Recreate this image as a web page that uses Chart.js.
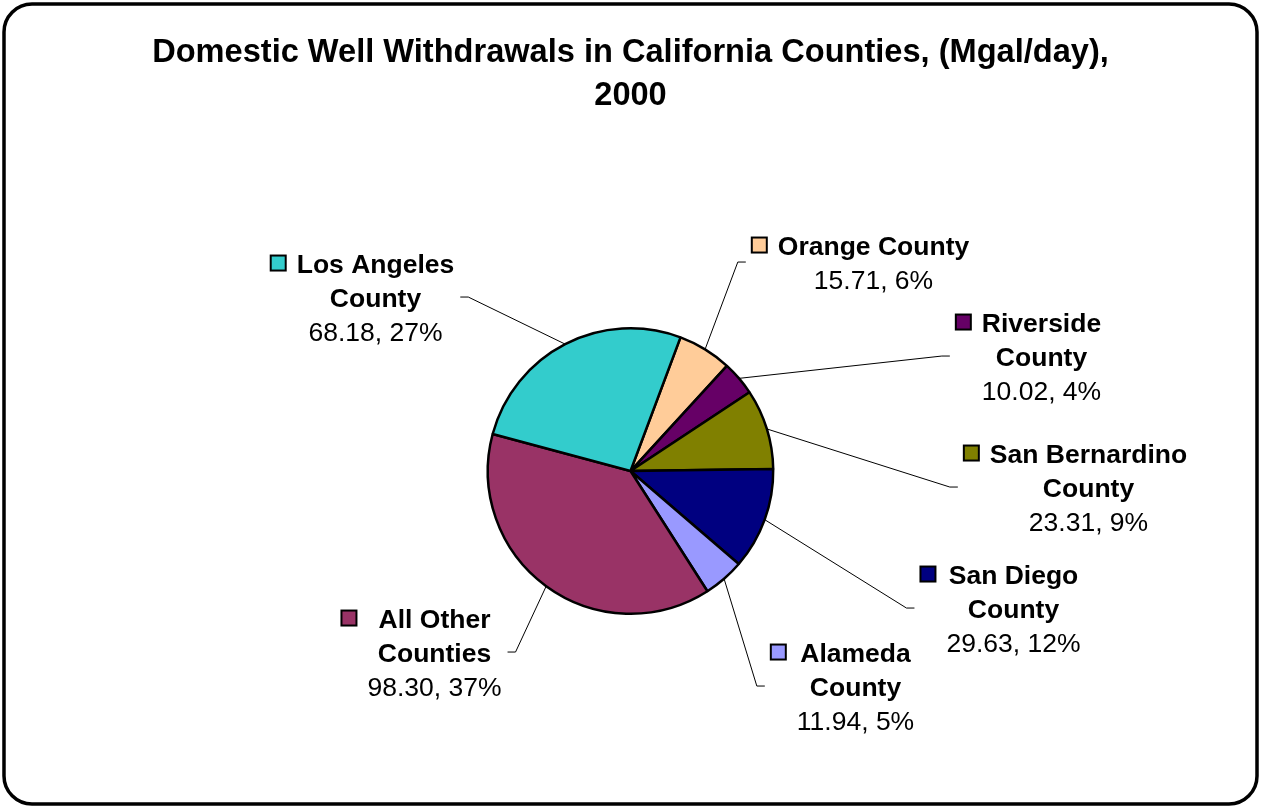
<!DOCTYPE html>
<html>
<head>
<meta charset="utf-8">
<script src="https://cdn.jsdelivr.net/npm/chart.js@4"></script>
<style>
  html, body { margin: 0; padding: 0; background: #fff; }
  canvas { display: block; }
</style>
</head>
<body>
<canvas id="pieChart" width="1261" height="808"></canvas>
<script>
// Data, in drawing order (clockwise from the top-right)
const categories = ['Orange County', 'Riverside County', 'San Bernardino County', 'San Diego County',
                    'Alameda County', 'All Other Counties', 'Los Angeles County'];
const withdrawals = [15.71, 10.02, 23.31, 29.63, 11.94, 98.30, 68.18];
const percentLabels = [6, 4, 9, 12, 5, 37, 27];
const sliceColors = ['#FFCC99', '#660066', '#808000', '#000080', '#9999FF', '#993366', '#33CCCC'];

// Label block centres, relative to the pie centre (layout only)
const labelOffsets = [[243, -209], [411, -115], [458, 16], [383, 137], [225, 215], [-196, 181], [-255, -174]];

const labelFont = 'Liberation Sans, Arial, sans-serif';
const labelSize = 26.5;
const lineStep = 34;

function wrapName(ctx, text, maxWidth) {
    const words = text.split(' ');
    const lines = [];
    let cur = '';
    words.forEach(w => {
        const test = cur ? cur + ' ' + w : w;
        if (cur && ctx.measureText(test).width > maxWidth) {
            lines.push(cur);
            cur = w;
        } else {
            cur = test;
        }
    });
    if (cur) lines.push(cur);
    return lines;
}

// Rounded frame round the whole chart
const framePlugin = {
    id: 'frame',
    afterDraw(chart) {
        const ctx = chart.ctx;
        ctx.save();
        ctx.lineWidth = 3.5;
        ctx.strokeStyle = '#000';
        ctx.beginPath();
        ctx.roundRect(4, 4, 1253, 800, 28);
        ctx.stroke();
        ctx.restore();
    }
};

// Outside labels with leader lines, Excel style
const sliceLabels = {
    id: 'sliceLabels',
    afterDatasetsDraw(chart) {
        const ctx = chart.ctx;
        const meta = chart.getDatasetMeta(0);
        ctx.save();
        meta.data.forEach((arc, i) => {
            const p = arc.getProps(['x', 'y', 'startAngle', 'endAngle', 'outerRadius'], true);
            const mid = (p.startAngle + p.endAngle) / 2;
            const sx = p.x + Math.cos(mid) * p.outerRadius;
            const sy = p.y + Math.sin(mid) * p.outerRadius;
            const cx = p.x + labelOffsets[i][0];
            const cy = p.y + labelOffsets[i][1];

            ctx.font = 'bold ' + labelSize + 'px ' + labelFont;
            const names = wrapName(ctx, categories[i], 200);
            const valueText = withdrawals[i].toFixed(2) + ', ' + percentLabels[i] + '%';
            const n = names.length + 1;
            const top = cy - (n - 1) / 2 * lineStep;

            let maxW = 0;
            names.forEach(t => { maxW = Math.max(maxW, ctx.measureText(t).width); });
            ctx.font = labelSize + 'px ' + labelFont;
            maxW = Math.max(maxW, ctx.measureText(valueText).width);
            const boxLeft = cx - maxW / 2;
            const boxRight = cx + maxW / 2;
            const sqRight = boxLeft - 11;
            const sqLeft = sqRight - 15;

            // leader line
            let end, elbow;
            if (cx > p.x) {
                end = sqLeft - 6;
                elbow = end - 8;
            } else {
                end = boxRight + 6;
                elbow = end + 8;
            }
            ctx.strokeStyle = '#000';
            ctx.lineWidth = 1;
            ctx.beginPath();
            ctx.moveTo(sx, sy);
            ctx.lineTo(elbow, cy);
            ctx.lineTo(end, cy);
            ctx.stroke();

            // legend key square
            ctx.fillStyle = sliceColors[i];
            ctx.fillRect(sqLeft, top - 7.5, 15, 15);
            ctx.lineWidth = 2;
            ctx.strokeRect(sqLeft, top - 7.5, 15, 15);

            // text
            ctx.fillStyle = '#000';
            ctx.textAlign = 'center';
            ctx.textBaseline = 'alphabetic';
            ctx.font = 'bold ' + labelSize + 'px ' + labelFont;
            names.forEach((t, k) => ctx.fillText(t, cx, top + k * lineStep + 9.5));
            ctx.font = labelSize + 'px ' + labelFont;
            ctx.fillText(valueText, cx, top + names.length * lineStep + 9.5);
        });
        ctx.restore();
    }
};

new Chart(document.getElementById('pieChart'), {
    type: 'pie',
    data: {
        labels: categories,
        datasets: [{
            data: withdrawals,
            backgroundColor: sliceColors,
            borderColor: '#000',
            borderWidth: 2.5
        }]
    },
    options: {
        responsive: false,
        animation: false,
        devicePixelRatio: 1,
        rotation: 20.5,
        layout: { padding: { top: 0, bottom: 193, left: 0, right: 0 } },
        plugins: {
            legend: { display: false },
            tooltip: { enabled: false },
            title: {
                display: true,
                text: ['Domestic Well Withdrawals in California Counties, (Mgal/day),', '2000'],
                color: '#000',
                font: { family: labelFont, size: 32.6, weight: 'bold', lineHeight: 1.32 },
                padding: { top: 31, bottom: 210 }
            }
        }
    },
    plugins: [sliceLabels, framePlugin]
});
</script>
</body>
</html>
